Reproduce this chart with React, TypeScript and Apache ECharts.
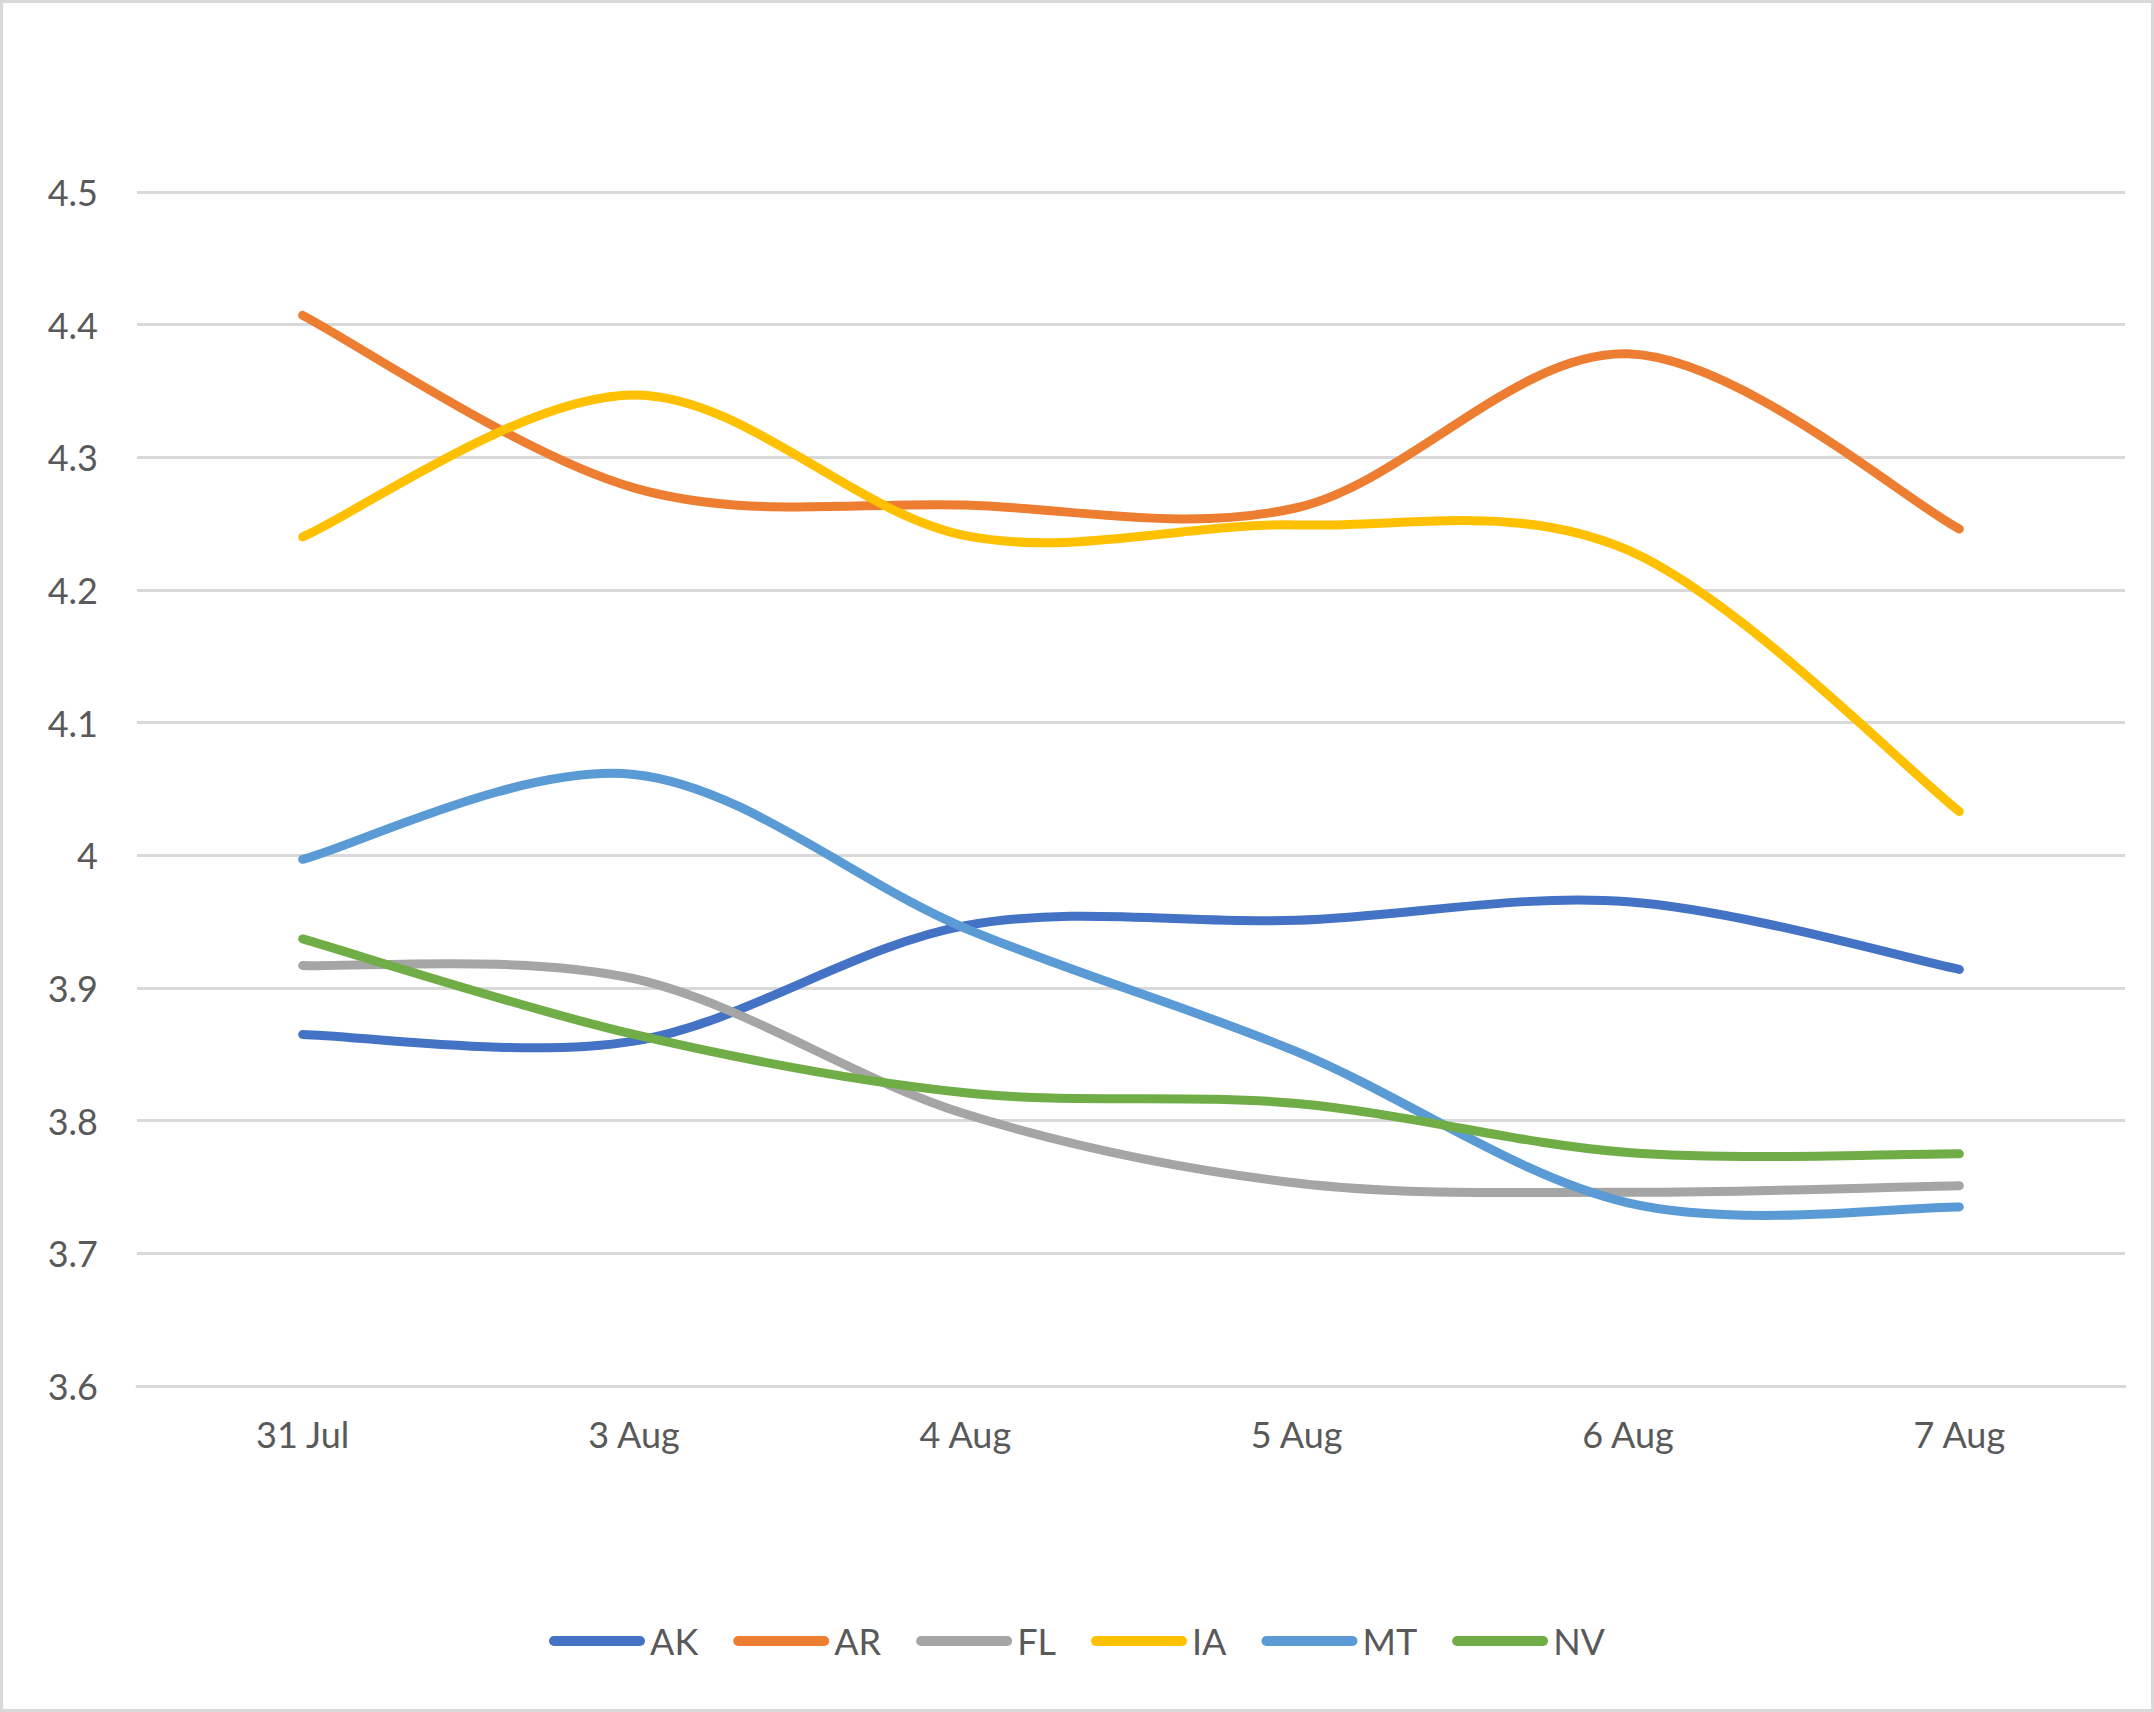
import React, { useEffect, useRef } from "react";
import * as echarts from "echarts";

const categories = ["31 Jul", "3 Aug", "4 Aug", "5 Aug", "6 Aug", "7 Aug"];
const seriesNames = ["AK", "AR", "FL", "IA", "MT", "NV"];
const colors = ["#4472C4", "#ED7D31", "#A5A5A5", "#FFC000", "#5B9BD5", "#70AD47"];
const akValues = [3.865, 3.86, 3.947, 3.951, 3.965, 3.914];
const arValues = [4.407, 4.277, 4.264, 4.262, 4.378, 4.246];
const flValues = [3.917, 3.907, 3.805, 3.753, 3.746, 3.751];
const iaValues = [4.24, 4.347, 4.241, 4.249, 4.23, 4.033];
const mtValues = [3.997, 4.061, 3.945, 3.852, 3.738, 3.735];
const nvValues = [3.937, 3.865, 3.821, 3.813, 3.776, 3.775];
const allValues = [akValues, arValues, flValues, iaValues, mtValues, nvValues];
const yTicks = { min: 3.6, max: 4.5, interval: 0.1 };

const FONT = "Lato, 'Noto Sans', sans-serif";
const LEGEND_ICON = "path://M5,0 L91,0 A5,5 0 0 1 91,10 L5,10 A5,5 0 0 1 5,0 Z";

// Catmull-Rom style smoothing (like spreadsheet smoothed lines)
function smoothPath(pts: number[][]): string {
  const n = pts.length;
  let d = `M${pts[0][0]},${pts[0][1]}`;
  for (let i = 0; i < n - 1; i++) {
    const p0 = pts[Math.max(0, i - 1)];
    const p1 = pts[i];
    const p2 = pts[i + 1];
    const p3 = pts[Math.min(n - 1, i + 2)];
    const c1x = p1[0] + (p2[0] - p0[0]) / 6;
    const c1y = p1[1] + (p2[1] - p0[1]) / 6;
    const c2x = p2[0] - (p3[0] - p1[0]) / 6;
    const c2y = p2[1] - (p3[1] - p1[1]) / 6;
    d += ` C${c1x},${c1y} ${c2x},${c2y} ${p2[0]},${p2[1]}`;
  }
  return d;
}

export default function App() {
  const ref = useRef<HTMLDivElement>(null);
  useEffect(() => {
    if (!ref.current) return;
    const chart = echarts.init(ref.current, null, { renderer: "svg" });
    chart.setOption({
      animation: false,
      backgroundColor: "#ffffff",
      color: colors,
      textStyle: { fontFamily: FONT },
      graphic: [
        {
          type: "rect",
          shape: { x: 1.5, y: 1.5, width: 2151, height: 1709 },
          style: { fill: "none", stroke: "#d9d9d9", lineWidth: 3 },
          silent: true,
        },
      ],
      grid: { left: 137, right: 29, top: 192, bottom: 326, containLabel: false },
      legend: {
        data: seriesNames,
        top: 1618,
        left: "center",
        icon: LEGEND_ICON,
        itemWidth: 96,
        itemHeight: 10,
        itemGap: 35,
        textStyle: { fontFamily: FONT, fontSize: 36, color: "#595959" },
      },
      xAxis: {
        type: "category",
        data: categories,
        boundaryGap: true,
        axisLine: { show: true, lineStyle: { color: "#d9d9d9", width: 3 } },
        axisTick: { show: false },
        axisLabel: { fontFamily: FONT, fontSize: 36, color: "#595959", margin: 30 },
      },
      yAxis: {
        type: "value",
        min: yTicks.min,
        max: yTicks.max,
        interval: yTicks.interval,
        axisLine: { show: false },
        axisTick: { show: false },
        splitLine: { show: true, lineStyle: { color: "#d9d9d9", width: 3 } },
        axisLabel: {
          fontFamily: FONT,
          fontSize: 36,
          color: "#595959",
          margin: 39,
          formatter: (v: number) => String(Math.round(v * 10) / 10),
        },
      },
      series: seriesNames.map((name, i) => ({
        name,
        type: "custom",
        data: allValues[i].map((v, j) => [j, v]),
        encode: { x: 0, y: 1 },
        itemStyle: { color: colors[i] },
        renderItem: (params: any, api: any) => {
          if (params.dataIndex !== 0) return null;
          const pts = allValues[i].map((v, j) => api.coord([j, v]));
          return {
            type: "path",
            shape: { pathData: smoothPath(pts) },
            style: {
              fill: "none",
              stroke: colors[i],
              lineWidth: 9,
              lineCap: "round",
              lineJoin: "round",
            },
          };
        },
      })),
    });
    return () => chart.dispose();
  }, []);
  return (
    <div
      ref={ref}
      style={{ position: "absolute", left: 0, top: 0, width: 2154, height: 1712 }}
    />
  );
}
